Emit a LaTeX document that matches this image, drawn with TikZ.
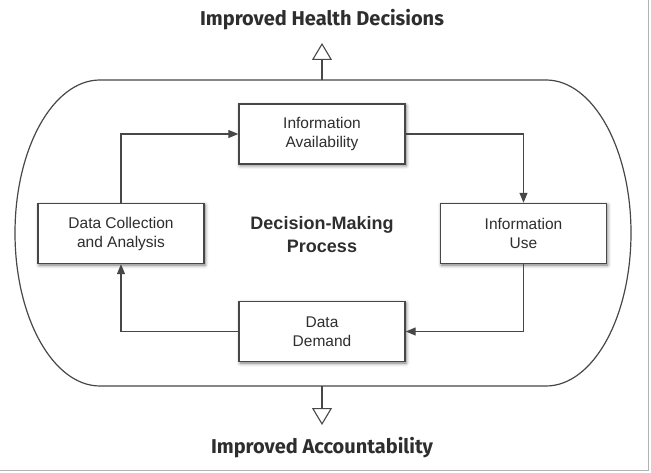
\documentclass[tikz,border=0pt]{standalone}
\usepackage{fontspec}
\setmainfont{Liberation Sans}
\newfontfamily\headfont{Fira Sans}
\usetikzlibrary{positioning,arrows.meta,shadows.blur}
\definecolor{ink}{HTML}{474747}
\definecolor{txt}{HTML}{2E2E2E}
\tikzset{
  box/.style={draw=ink, line width=1.4pt, fill=white, minimum width=166pt, minimum height=60pt,
    align=center, text=txt, font=\fontsize{15.5}{19}\selectfont,
    blur shadow={shadow xshift=1pt, shadow yshift=-1.5pt, shadow blur radius=3.5pt, shadow opacity=55}},
  link/.style={draw=ink, line width=1.1pt, -{Triangle[length=10pt,width=8pt]}},
  hollow/.style={draw=ink, line width=1.1pt, -{Triangle[open,length=17pt,width=20pt]}},
  head/.style={text=txt, font=\headfont\bfseries\fontsize{20}{24}\selectfont}
}
\begin{document}
\begin{tikzpicture}[x=1pt, y=-1pt]
    \useasboundingbox (0,0) rectangle (651,473);
    \draw[ink, line width=1.2pt] (100,80) -- (546,80) arc[start angle=90, end angle=-90, x radius=85pt, y radius=153pt]
      -- (100,386) arc[start angle=270, end angle=90, x radius=85pt, y radius=153pt] -- cycle;
    \node(Avail)	[box] at (322,134)	{Information\\Availability};
    \node(Collect)	[box, on grid, below left=99.5pt and 201pt of Avail]	{Data Collection\\and Analysis};
    \node(Use)		[box, on grid, below right=99.5pt and 201.5pt of Avail]	{Information\\Use};
    \node(Demand)	[box, on grid, below=197.5pt of Avail]	{Data\\Demand};
    \node(Process)	[on grid, below=101pt of Avail, align=center, text=txt, font=\bfseries\fontsize{18}{23}\selectfont] {Decision-Making\\Process};
    \node(Health)	[head] at (322,20)	{Improved Health Decisions};
    \node(Account)	[head] at (322,448)	{Improved Accountability};
    \coordinate (RingTop) at (322,80);
    \coordinate (UpTip) at (322,43);
    \coordinate (RingBot) at (322,386);
    \coordinate (DownTip) at (322,425);
    \draw[link](Collect)	|- (Avail);
    \draw[link](Avail)	-| (Use);
    \draw[link](Use)	|- (Demand);
    \draw[link](Demand)	-| (Collect);
    \draw[hollow](RingTop)	-- (UpTip);
    \draw[hollow](RingBot)	-- (DownTip);
    \draw[black!30, line width=0.8pt] (648,0) -- (648,470) -- (0,470);
\end{tikzpicture}
\end{document}
